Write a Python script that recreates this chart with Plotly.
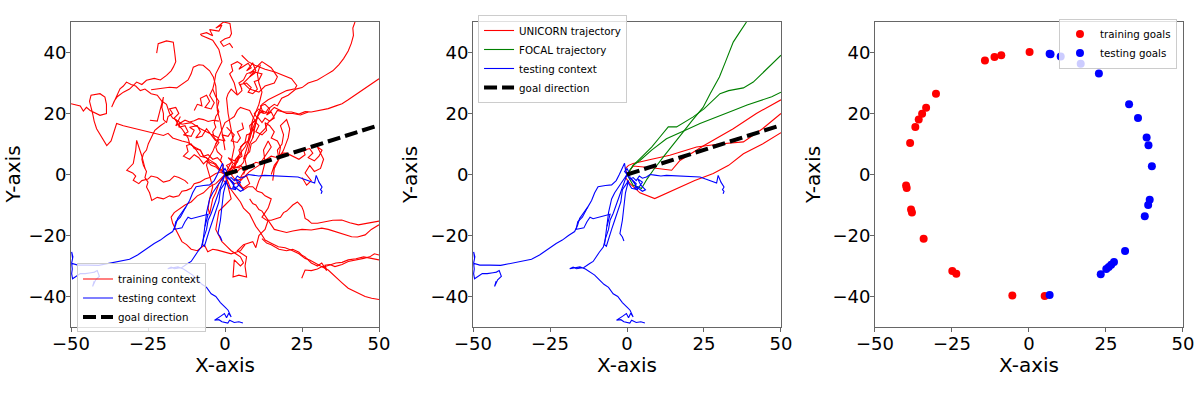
import plotly.graph_objects as go

# ---- training context (red), panel 1 ----
r1_x = [0, 1.5, 2.5, 4, 5, 4.5, 6, 7.5, 8, 9.5, 10.2, 11, 13, 14, 16, 17, 18.4, 20.5, 23, 25, 27, 30, 32.5, 35, 37, 38.5, 40, 41, 41.7, 41.5, 42.2]
r1_y = [0, 1, 3.5, 4, 6.5, 8, 10, 11, 13.5, 15, 17.5, 20.5, 20, 21.5, 23, 22.5, 25, 26, 28, 28.5, 30, 31, 32.5, 34, 36, 38, 40.5, 43, 45.6, 48, 50]
r2_x = [0, 2, 3, 4.5, 6, 6.5, 8, 8.5, 10, 11.5, 13, 14, 15.5, 17, 19, 21.6, 24, 26, 28, 31, 33.5, 36, 38, 40, 43, 46, 48, 50]
r2_y = [0, 1, 2.5, 2.2, 4, 6, 7.5, 10, 11, 13.5, 15, 17, 18.5, 21, 20.5, 20.5, 19.8, 20.6, 20.5, 21, 21.6, 22.5, 23.2, 24.5, 26.5, 28.5, 29.8, 31.4]
r3_x = [0, -1, -0.5, -1.5, -1, -2.5, -3, -2, -3.5, -4, -3, -3.5, -3, -2, -2.5, -2, -3, -4, -3.5, -3, -2, -1, -1.5, -2, -3, -4, -7.6, -8, -6, -4, -5, -2, -1, -3, -0.5, 1.6, 2.1, 1.5, 0, -1.5, -0.5, 1.5, 2.5]
r3_y = [0, 1.5, 3, 4.5, 6, 7.5, 9, 10.5, 12, 14, 15.5, 17, 19, 20.5, 22, 24, 25.5, 28, 30, 33, 35, 37, 39, 41, 42.5, 44, 45.6, 46, 46.5, 45.5, 47.5, 47, 49, 48, 50, 49.5, 46.2, 45, 44.5, 43.5, 42, 43, 41.5]
r4_x = [0, -1, -2, -3.5, -5, -6, -8, -9, -10, -11.5, -12, -13, -14, -15, -16, -17, -18, -19, -20.5, -22, -24, -26, -27.5, -29, -30.5, -32, -33, -34.1, -35.2, -36, -36.8, -36, -35, -33, -31, -28.7, -27, -25.5, -23, -21, -19, -17.5, -16.8, -16, -16.3, -16.5, -16.8, -19, -21.7, -22.2]
r4_y = [0, 1.5, 2, 3.5, 4, 5.5, 6, 7.5, 9, 10, 12, 13.5, 15, 16, 18, 18.5, 20, 23, 24, 26, 26.5, 28, 27.5, 29, 29.5, 30.3, 29, 28.1, 25.4, 23.5, 22.1, 24, 25.5, 27, 28, 30.3, 29.5, 30.9, 31.5, 31, 32.5, 34, 35.2, 37, 39.6, 41.5, 43.4, 43.8, 42.9, 39.8]
r5_x = [-50, -47, -46, -45, -43.8, -42, -40.6, -38.5, -38.5, -39, -40.6, -43.5, -44, -43, -42.5, -41.7, -40.5, -39.5, -38.4, -37, -35.2, -33, -31, -29, -27.6, -25.5, -23.3, -20, -18.5, -17, -14, -12, -10, -8, -7, -5.5, -4, -3, -2, -1, 0]
r5_y = [23.2, 22.5, 20.8, 22, 21, 20, 19.4, 20, 23, 25.4, 26.5, 26, 24, 20, 17.5, 15, 13, 11, 9.5, 11, 16.7, 16, 15.5, 15, 14.5, 14, 13.4, 12.8, 13.5, 12, 11, 10.5, 9, 8, 6, 5, 4, 3.5, 2, 1, 0]
r6_x = [-24.4, -22, -20, -20.5, -20, -20, -19, -18.5, -17, -18, -16, -15, -16.5, -15.5, -14.5, -16, -13, -11.5, -10, -8.5, -7, -5.5, -3.8, -2]
r6_y = [17.8, 17.5, 25.4, 22, 20, 18, 17, 19, 20, 21.5, 22, 20, 18.5, 17, 19, 16, 17.8, 17.2, 17.6, 18.3, 18, 17.4, 17.8, 17.5]
r7_x = [0, -1.5, -3, -5, -6.5, -8.2, -10, -11, -12.5, -14, -15, -16.8, -18, -20, -22, -23.8, -24.5, -25.5, -25, -26, -25.5, -26.5, -27, -26.5, -25.5, -24.9, -24, -22.8, -21, -19.5]
r7_y = [0, 0.8, 0.3, -1, -1.5, -2.5, -3, -4.5, -5.2, -5.5, -7, -7.4, -7, -8, -7.5, -8.5, -6, -4.1, -2.5, -1, 1, 3, 5, 6.8, 8, 10.1, 12, 14.5, 16, 17]
r8_x = [-26, -27, -28.7, -29, -29.8, -31, -31.9, -30, -29, -29.8, -28, -27, -25, -24, -22, -20, -18, -16.5, -15, -13, -12]
r8_y = [2, 6, 11.2, 8, 3.6, 2.5, 1.4, 0.5, -0.5, -1.9, -3, -2, -1.5, -0.5, -1, -2.5, -2, -0.5, -1, -2, -3]
r9_x = [0, -1, -2, -2.5, -3, -4, -4.5, -5, -5.5, -5, -4, -4.5, -5, -6, -5.5, -4, -3, -2, -1, 0, 1.5, 3, 4, 5, 6.5, 8, 9, 10, 9.5, 9]
r9_y = [0, -1.5, -3, -4.5, -6, -8, -10, -13, -11, -8, -4, -2, 0, 3, 5, 7.5, 10, 12.5, 15, 17, 18, 19, 21, 22, 21.5, 21, 19, 17, 14.5, 12]
r10_x = [0, 1, 2, 2.5, 3, 2.5, 2, 1.5, 1, 0.5, 1, 2, 4, 3, 1.5, 2.5, 2, 4, 5.5, 4.5, 6, 7.5, 8.5, 7, 9, 10, 8, 6, 7, 8, 11, 13, 16, 17, 15, 12, 10, 8]
r10_y = [0, 2, 4, 6.5, 9, 12, 15, 17.5, 20, 25, 26.5, 28, 26, 30, 33, 34, 36, 37, 36, 34.5, 35.5, 36.5, 35, 34, 36.5, 34, 32, 30, 29, 28, 27, 29, 30, 32, 35, 37, 35, 33]
r11_x = [0, 1.5, 3, 3.5, 5, 6.5, 8, 8.5, 9, 10.5, 9.5, 11, 12.5, 11.5, 13, 14.5, 13.5, 15, 16, 14.5, 13, 12, 10.5, 12, 14, 16, 18, 20, 22, 24.5, 27]
r11_y = [0, 1.5, 3, 5, 7, 9, 12, 14.5, 17, 18.5, 20, 21.5, 20, 22.5, 23, 21.5, 19.5, 20.5, 18.5, 17.5, 18.5, 17, 19, 21, 20, 22, 21, 20, 20, 19.5, 20.5]
r12_x = [0, 2, 3.5, 5, 7, 8.5, 10, 12, 13.5, 15, 17, 18.5, 20, 22, 24, 26, 25.5, 27.5, 28.5, 27, 29, 30.5, 31.5, 30, 32, 31, 29, 27.5, 26, 28, 26.5, 25]
r12_y = [0, 1.5, 0.5, 2, 1.5, 3, 4, 3.5, 5, 6, 5.5, 7, 7, 6, 5, 6.5, 8, 8.5, 7, 5.5, 4.5, 6, 8, 9, 5, 2, 1, 3, 0.5, -2, -3.5, -1]
r13_x = [0, 1.5, 3, 4.5, 6, 7.5, 9, 10.5, 12, 13, 15, 14.5, 14, 13, 12, 13.5, 15, 16.5, 18, 19, 20, 21, 22, 23.5, 24.9, 25.5, 26, 27, 28.1, 30, 32.5, 35, 37.9, 40.5, 43.3, 46, 49.8, 50]
r13_y = [0, -1.5, -3, -2.5, -5, -4, -4, -5.5, -6, -7, -8, -9.5, -11, -12.5, -14, -15, -15, -14.5, -14, -12.5, -12, -11, -10, -9, -10.5, -12, -14.4, -15, -16, -16, -15.5, -15, -14.9, -15.8, -16.5, -16, -15.5, -15.3]
r14_x = [8, 9, 10, 11, 12, 13, 14, 15, 16, 18, 20, 22, 25, 28, 31.4, 33.5, 35.7, 38, 41.1, 43, 45.5, 47.5, 50]
r14_y = [-8, -9.5, -10, -11.5, -12, -13.5, -15, -16.5, -18, -18.5, -19, -18.5, -18, -18.2, -17.6, -18, -18.7, -19.5, -20.4, -20.5, -19.8, -18, -16.5]
r15_x = [0, 1, 2, 3.5, 5, 6, 8, 9, 10, 11.5, 13, 15, 17.3, 19.5, 21.6, 24, 26, 27.5, 29.2, 31, 33.5, 35.7, 38, 40, 41.5, 43.3, 45.5, 47.6, 50]
r15_y = [0, -2.5, -5, -7, -9, -11, -13, -15, -17, -19, -21.5, -22.5, -23.7, -24, -24.8, -26, -27.5, -28, -29.1, -30, -31.3, -33.5, -35.5, -37.3, -38, -39, -40, -40.6, -41]
r16_x = [12, 13.5, 15, 17.5, 20, 22, 24, 25, 26, 27, 28, 29, 30, 31.4, 32, 33, 32.5, 34, 35.7, 38, 40, 42, 43.3, 45, 47, 48.5, 50]
r16_y = [-21, -22.5, -23, -24.5, -25, -24.5, -25.5, -26.5, -27, -28, -29, -29.5, -30, -29, -30, -31.5, -29.7, -29.5, -30.2, -29.5, -28.5, -28.2, -28, -27.5, -27, -26, -26.4]
r17_x = [24.9, 25.5, 26, 28, 30, 31.5, 33, 34.5, 36, 38, 40, 42.5, 45, 47.5, 50]
r17_y = [-34, -32.5, -31.3, -31.5, -31, -30.2, -30, -29.5, -29, -28.8, -28, -27.6, -27, -27.5, -28]
r18_x = [0, 0.5, 1, 1.5, 2, 0, -2, -2.5, -3, -2, -1, 0.5, 2, 3.5, 5, 6, 5, 3, 2.6, 4.5, 7, 6.5, 7, 5.5, 4, 6, 7.5, 9, 10, 11, 12, 13, 14]
r18_y = [0, -2, -4, -6, -8, -10, -12, -15, -18, -20, -22, -23.5, -25, -26, -27, -29, -30, -28, -33.6, -33, -33.6, -30, -27, -26, -25, -23, -22.5, -22, -24, -20, -19, -18, -15]
r19_x = [0, -1.5, -3, -5, -7, -9, -11, -13, -15.4, -16.5, -17.5, -17, -16, -14, -12.5, -11, -9, -6.7, -5.6, -4, -2.4, 0, 2, 3.5, 5, 6.5]
r19_y = [0, -1.5, -3, -4, -6, -7, -9, -10, -11.6, -12.5, -14, -16, -18, -22, -23, -24.5, -25, -23.1, -25.3, -24.5, -24.8, -25.5, -26, -25.5, -25, -23]
r20_x = [-24, -22, -20, -18, -15.7, -14, -12, -11, -10.3, -8.5, -7.1, -5, -3.8, -3, -2.8, -2.5, -1.5, -1, 0]
r20_y = [27.8, 28, 28.2, 28.6, 28.4, 29.5, 31, 33, 35.2, 36, 35.8, 34, 32, 29, 26.5, 21, 17, 14, 8]
r21_x = [5.4, 7.5, 9.7, 13, 16.2, 19, 21.6, 23.3, 22.7, 20, 17, 14, 12, 10.5, 9, 7.5, 6]
r21_y = [39.1, 37, 35.8, 34.5, 33.6, 32.5, 31.4, 29.2, 28.1, 27.5, 26, 24.5, 23, 19, 15, 10, 5]
r22_x = [6, 7, 6.5, 7.5, 8, 9, 9.5, 8.5, 9, 10, 11, 11.5, 12, 11, 10.5, 11.5]
r22_y = [0, 2.5, 5, 7.5, 10, 12, 14, 16, 18, 20.5, 23, 25, 27, 30, 33, 36]
r23_x = [10, 11, 12, 13, 12.5, 14, 15, 14, 13, 12, 11, 9.5, 8, 6.5, 5]
r23_y = [-5, -2, 0, 4, 8, 11, 9, 7.5, 6, 4.5, 3, 2, 1, -0.5, -2]
r24_x = [0, 1.5, 0.5, 2.5, 1, 3, 4.5, 3, 5, 6.5, 5, 7, 8, 6, 4, 5.5, 3.5, 2, 4, 2.5, 1, -1, 0.5]
r24_y = [0, 1.5, 3, 4, 5.5, 4.5, 6, 2, 3, 1.5, -1, -0.5, -3, -4.5, -3, -1.5, -2, 0, 1, 2.5, 1, -1.5, -3]
r25_x = [-2, -5, -8, -11, -14, -16, -14.5, -15, -13, -12, -13.5, -11, -10, -11.5, -9, -8, -9.5, -7.5, -6, -4.5, -3]
r25_y = [12, 13.5, 15, 17, 16.5, 18, 17, 15.5, 16, 14, 13, 12.5, 14.5, 15.5, 16, 14, 12, 12.5, 15, 13, 11]
r26_x = [-3, -2, 0, -1, 1, 2, 0.5, 3, 2, 4, 5, 4, 6, 5.5]
r26_y = [10, 11.5, 11, 13, 12.5, 14, 15.5, 13, 11, 10.5, 12, 14, 15, 17]
r27_x = [3, 4, 5.5, 5, 6.5, 7, 8.5, 8, 9.5, 11, 10, 12, 13.5, 13, 14.5, 16, 15, 17, 18, 17.5]
r27_y = [2, 5, 6, 9, 10.5, 13, 13.5, 16, 17.5, 16, 14, 13, 14.5, 17, 16, 14, 12, 11, 9, 6]
r28_x = [-1, -2.5, -4, -5.5, -7, -8, -10, -11, -12.5, -12, -13.5, -11.5, -10, -8.5, -7, -6, -4.5, -3, -1.5]
r28_y = [4, 5.5, 5, 6.5, 6, 8, 8.5, 10, 9.5, 7.5, 6, 5, 6.5, 5.5, 3.5, 4.5, 3, 2.5, 1]
r29_x = [4, 5.5, 5, 7, 8.5, 7.5, 9, 10.5, 9.5, 11, 12, 10, 8, 9.5, 7, 6, 4.5, 5.5]
r29_y = [26, 27.5, 29.5, 30, 28.5, 27, 26.5, 28, 30.5, 31, 33, 33.5, 32, 34, 33, 31, 30, 28]
r30_x = [15, 16, 17.5, 17, 18.5, 19, 18, 20, 21, 20.5, 19, 17.5, 16, 15.5]
r30_y = [0, 3, 5, 8, 10, 13, 16, 18, 15, 12, 8, 5, 2, -2]
r31_x = [-10, -9, -7.5, -8, -6, -5, -6.5, -4.5, -3.5, -5, -4]
r31_y = [21, 23, 22.5, 25, 26, 24, 22, 21.5, 23.5, 26, 28]

training_paths = [(r1_x, r1_y), (r2_x, r2_y), (r3_x, r3_y), (r4_x, r4_y), (r5_x, r5_y),
                  (r6_x, r6_y), (r7_x, r7_y), (r8_x, r8_y), (r9_x, r9_y), (r10_x, r10_y),
                  (r11_x, r11_y), (r12_x, r12_y), (r13_x, r13_y), (r14_x, r14_y), (r15_x, r15_y),
                  (r16_x, r16_y), (r17_x, r17_y), (r18_x, r18_y), (r19_x, r19_y), (r20_x, r20_y),
                  (r21_x, r21_y), (r22_x, r22_y), (r23_x, r23_y), (r24_x, r24_y), (r25_x, r25_y),
                  (r26_x, r26_y), (r27_x, r27_y), (r28_x, r28_y), (r29_x, r29_y), (r30_x, r30_y),
                  (r31_x, r31_y)]

# ---- testing context (blue), panels 1 and 2 ----
b1_x = [0, -0.5, -0.8, -1.5, -2.5, -3.5, -5, -7, -9.4, -10.5, -11.5, -12.7, -14, -15.4, -16, -17, -19, -21, -23, -25.5, -28.4, -31, -34.8, -38, -41, -44.6, -47.8, -49.8, -49.5, -49.8, -49.4, -49.8, -49.6, -49.8, -49.5, -47, -45.4, -43.5, -42.4, -41.5, -40.8, -42, -43, -42.5]
b1_y = [0, 1.5, 3.7, 2, 0, -2, -3.4, -3.6, -4, -6, -8.5, -10.6, -12.5, -14.4, -16.5, -18.7, -20, -21.5, -22.6, -24.5, -26.4, -27.8, -28.6, -29.4, -29.8, -29.7, -29.7, -29.1, -27.5, -25.4, -27, -29, -31, -32.5, -34.2, -32.5, -32.5, -32.2, -32, -31.5, -33.4, -34.5, -36.7, -35]
b2_x = [0, -1, -2, -3, -4, -5, -5.5, -6, -6.3, -6.5, -6.8, -7, -7.3, -6.7, -6, -5, -4, -3, -2, -1.5, 0.5, -0.5, -1, -1.5, -2.3, -1.5, -1]
b2_y = [0, -1.5, -3, -4.5, -6, -8, -10, -12.5, -15, -17, -19, -21, -23, -23.5, -21, -18, -15, -12, -9, -5, -2, -6, -10, -15, -19.4, -20.5, -21.8]
b3_x = [0, -1, -2, -3, -4.5, -5.5, -6, -7, -7.7, -9, -10, -11, -12.1, -14, -16.4, -17.5, -18.6, -17, -15.3, -13.5, -12, -10.5, -8.8, -7.5, -6, -4.5, -3, -1.5, 0, 1, 2, 1.2, 0.5, -0.2, -1.5, -3.4, -2, -1, 0.9, 1.5, 3, 4.5, 5.8]
b3_y = [0, -3, -5.5, -9, -12.8, -15, -18, -21, -23.8, -25.5, -27, -28.5, -29.2, -30.5, -30.9, -30.4, -30.9, -30.6, -30.3, -31, -32, -33, -34.7, -36, -37, -39.1, -40, -42, -43.5, -44.5, -46.7, -45.5, -47, -45.6, -46.5, -47.8, -47.6, -48.3, -48.7, -47.8, -48.5, -48.3, -48.7]
b4_x = [0, 1, 2, 3, 4, 5, 6.3, 7.5, 9, 11, 12.8, 15, 18, 21, 23.7, 25.5, 27, 28, 29.1, 29.6, 30, 30.5, 31.5, 31, 31.5, 31.2]
b4_y = [0, -1.5, -1, -2, -0.5, -1.2, -0.8, 0, -0.2, -0.5, -0.3, -0.4, -0.6, -0.7, -0.8, -1.5, -2, -2.5, -2.8, -0.3, -1.5, -2.5, -4.1, -5, -5.5, -6.3]
b5_x = [0, -0.8, 0, 0.5, 1, 2, 3, 2.5, 4, 5, 3.5, 4.5, 6, 5, 3, 2, 1, 2.5, 3.5, 1.5, 0]
b5_y = [0, 1, 2, 1, -1, -2, -3, -4.5, -4, -2.5, -1.5, -3.5, -5, -5.5, -4, -2, -1, -3, -5, -4.5, -2]
b6_x = [-12.7, -13.5, -14.5, -16, -16.5, -15.5, -14, -13, -12, -11, -10, -8.5, -7, -5.5, -6, -6.5]
b6_y = [-10.6, -12, -14, -15.5, -18, -17.8, -17.5, -15.5, -14, -14.5, -14.2, -14, -13.5, -13, -15, -17]

testing_paths = [(b1_x, b1_y), (b2_x, b2_y), (b3_x, b3_y), (b4_x, b4_y), (b5_x, b5_y), (b6_x, b6_y)]

# ---- UNICORN (red) and FOCAL (green) trajectories, panel 2 ----
u1_x = [0, -0.5, 0.5, 2, 8, 13.9, 22.6, 30, 37.8, 44, 50]
u1_y = [0, 2, 3, 3.6, 5, 6.3, 9, 10, 10.7, 15, 20]
u2_x = [0, 1, 2, 8, 14.5, 17.2, 25, 34.5, 42, 50]
u2_y = [0, 1.5, 2.8, 2.2, 1.4, 4.6, 9.5, 15, 20, 24.5]
u3_x = [0, -0.5, 1, 4.2, 9, 16, 22, 28, 33, 37.8, 44, 50]
u3_y = [0, -1, -3, -6, -7.9, -4.6, -2, 0.3, 3, 6.8, 10, 13.7]
f1_x = [0, 1, 2, 3.5, 4.7, 6.5, 8.5, 12, 15, 18.2, 21, 24.7, 27, 30, 32, 34.5, 36.5, 38.8]
f1_y = [0, -2, -3.5, -4, -4.6, -1.5, 1.4, 6, 10, 13.9, 17.5, 22, 26.5, 32, 37, 43.4, 46.5, 50]
f2_x = [0, 2, 5.3, 8, 10.7, 13.4, 16.1, 18.5, 21.5, 25, 28, 30.2, 33, 37.8, 41, 44.3, 47, 50]
f2_y = [0, 3, 6.3, 9, 12.3, 15.6, 15.6, 17, 18.9, 21.5, 24.5, 26.5, 27.5, 28.4, 30.3, 33.6, 36, 39.1]
f3_x = [0, 2, 4.2, 8, 12.8, 17, 20, 23.7, 28, 31, 34.5, 39, 42, 44.3, 47, 50]
f3_y = [0, 3, 4.6, 8, 11.7, 13.5, 15, 16.7, 18.5, 19.8, 21, 22.8, 23.8, 24.5, 25.5, 27]

unicorn_paths = [(u1_x, u1_y), (u2_x, u2_y), (u3_x, u3_y)]
focal_paths = [(f1_x, f1_y), (f2_x, f2_y), (f3_x, f3_y)]

# ---- goal direction ----
goal_x = [0, 50]
goal_y = [0, 16.2]

# ---- goals, panel 3 ----
train_goal_x = [0.2, -9, -11.2, -14.3, -30.2, -33.4, -34.7, -35.8, -36.9, -38.6, -39.9, -39.7, -38.3, -38, -34.2, -24.9, -23.6, -5.4, 5.1]
train_goal_y = [40.2, 39.1, 38.5, 37.4, 26.5, 21.9, 19.9, 18, 15.6, 10.3, -3.6, -4.4, -11.5, -12.5, -21.1, -31.6, -32.5, -39.7, -39.8]
test_goal_x = [6.7, 7, 10.3, 16.8, 22.7, 32.5, 35.4, 38.2, 38.8, 39.9, 39.2, 38.7, 37.6, 31.2, 27.6, 26.7, 25.9, 25.1, 23.3, 6.7]
test_goal_y = [39.6, 39.4, 38.7, 36.3, 33.1, 23, 18.5, 12.1, 9.6, 2.7, -8.3, -10, -13.7, -25.1, -28.7, -29.6, -30.3, -31, -32.7, -39.5]

tick_vals = [-50, -25, 0, 25, 50]
tick_text_x = ['\u221250', '\u221225', '0', '25', '50']
ytick_vals = [-40, -20, 0, 20, 40]
tick_text_y = ['\u221240', '\u221220', '0', '20', '40']

FONT = 'DejaVu Sans'
fig = go.Figure()


def add_paths(paths, color, name, xa, ya, legend):
    for i, (xs, ys) in enumerate(paths):
        fig.add_trace(go.Scatter(x=xs, y=ys, mode='lines', line=dict(color=color, width=1.1),
                                 name=name, legendgroup=name + legend, showlegend=(i == 0),
                                 legend=legend, xaxis=xa, yaxis=ya, hoverinfo='skip'))


def add_goal(xa, ya, legend):
    fig.add_trace(go.Scatter(x=goal_x, y=goal_y, mode='lines',
                             line=dict(color='black', width=4, dash='13px,5px'),
                             name='goal direction', legend=legend, xaxis=xa, yaxis=ya))


# panel 1
add_paths(training_paths, 'red', 'training context', 'x', 'y', 'legend')
add_paths(testing_paths, 'blue', 'testing context', 'x', 'y', 'legend')
add_goal('x', 'y', 'legend')

# panel 2
add_paths(unicorn_paths, 'red', 'UNICORN trajectory', 'x2', 'y2', 'legend2')
add_paths(focal_paths, 'green', 'FOCAL trajectory', 'x2', 'y2', 'legend2')
add_paths(testing_paths, 'blue', 'testing context', 'x2', 'y2', 'legend2')
add_goal('x2', 'y2', 'legend2')

# panel 3
fig.add_trace(go.Scatter(x=train_goal_x, y=train_goal_y, mode='markers',
                         marker=dict(color='red', size=8), name='training goals',
                         legend='legend3', xaxis='x3', yaxis='y3'))
fig.add_trace(go.Scatter(x=test_goal_x, y=test_goal_y, mode='markers',
                         marker=dict(color='blue', size=8), name='testing goals',
                         legend='legend3', xaxis='x3', yaxis='y3'))

x_domains = [[0.0594, 0.3169], [0.3955, 0.6530], [0.7316, 0.9891]]
y_domain = [0.1763, 0.9446]
xtitle_x = [0.1881, 0.5242, 0.8604]
ytitle_x = [0.0105, 0.3428, 0.6798]

axis_common = dict(range=[-50, 50], showgrid=False, zeroline=False, showline=True, mirror=True,
                   linecolor='#666', linewidth=1, ticks='outside', ticklen=4, tickcolor='#666',
                   automargin=False, ticklabelstandoff=-4,
                   tickfont=dict(family=FONT, size=18, color='black'))

layout = dict(width=1196, height=397, margin=dict(l=0, r=0, t=0, b=0, autoexpand=False),
              paper_bgcolor='white', plot_bgcolor='white',
              font=dict(family=FONT, color='black'))
annotations = []
for i in range(3):
    sx = '' if i == 0 else str(i + 1)
    layout['xaxis' + sx] = dict(axis_common, domain=x_domains[i], anchor='y' + sx,
                                tickvals=tick_vals, ticktext=tick_text_x)
    layout['yaxis' + sx] = dict(axis_common, domain=y_domain, anchor='x' + sx,
                                tickvals=ytick_vals, ticktext=tick_text_y)
    annotations.append(dict(text='X-axis', x=xtitle_x[i], y=0.080, xref='paper', yref='paper',
                            xanchor='center', yanchor='middle', showarrow=False,
                            font=dict(family=FONT, size=20)))
    annotations.append(dict(text='Y-axis', x=ytitle_x[i], y=0.5592, xref='paper', yref='paper',
                            xanchor='center', yanchor='middle', showarrow=False, textangle=-90,
                            font=dict(family=FONT, size=20)))
layout['annotations'] = annotations

legend_common = dict(font=dict(family=FONT, size=10.3), bgcolor='rgba(255,255,255,0.8)',
                     bordercolor='#cccccc', borderwidth=1, tracegroupgap=0, itemwidth=30)
layout['legend'] = dict(legend_common, x=0.0644, y=0.2494, xanchor='left', yanchor='middle')
layout['legend2'] = dict(legend_common, x=0.3997, y=0.8514, xanchor='left', yanchor='middle')
layout['legend3'] = dict(legend_common, x=0.9841, y=0.8904, xanchor='right', yanchor='middle')

fig.update_layout(**layout)
# drop the page's default body margin so the figure sits at the window's top-left corner
fig.write_html("out.html", config={'displayModeBar': False},
               post_script="document.body.style.margin='0';")
